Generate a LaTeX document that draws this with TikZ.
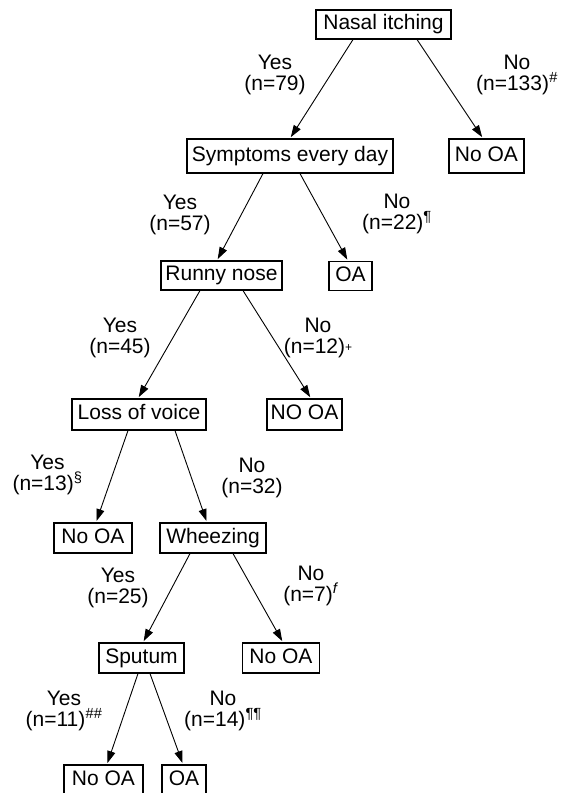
\documentclass[tikz,border=0pt]{standalone}
\usepackage{fontspec}
\setmainfont{Liberation Sans}
\usetikzlibrary{arrows.meta}
\begin{document}
\begin{tikzpicture}[x=1pt,y=-1pt,
  box/.style={draw,line width=1.1pt,inner sep=0pt,text height=15pt,text depth=4.5pt,minimum height=30pt,font=\fontsize{21}{20}\selectfont},
  lab/.style={align=center,inner sep=0pt,font=\fontsize{21}{20.5}\selectfont},
  arr/.style={line width=0.9pt,shorten >=1.5pt,-{Triangle[length=12pt,width=8pt]}}]
\useasboundingbox (0,0) rectangle (569,793);
% boxes
\node[box,minimum width=135pt,minimum height=29pt] (nasal) at (383.5,24.5) {Nasal itching};
\node[box,minimum width=206pt,minimum height=34pt] (sym) at (290,156) {Symptoms every day};
\node[box,minimum width=75pt,minimum height=34pt] (noa1) at (486.5,156) {No OA};
\node[box,minimum width=121pt,minimum height=29pt] (runny) at (221.5,275.5) {Runny nose};
\node[box,minimum width=43pt,minimum height=29pt] (oa1) at (350.5,276) {OA};
\node[box,minimum width=134pt,minimum height=31pt] (loss) at (139,414.5) {Loss of voice};
\node[box,minimum width=75pt,minimum height=31pt] (noa2) at (304.5,414.5) {NO OA};
\node[box,minimum width=78pt] (noa3) at (93,538) {No OA};
\node[box,minimum width=106pt] (wheez) at (213,538) {Wheezing};
\node[box,minimum width=85pt] (sput) at (141.5,658) {Sputum};
\node[box,minimum width=77pt] (noa4) at (281,658) {No OA};
\node[box,minimum width=79pt] (noa5) at (103.5,780) {No OA};
\node[box,minimum width=44pt] (oa2) at (184,780) {OA};
% arrows
\draw[arr] ([xshift=-30.5pt]nasal.south) -- (sym.north);
\draw[arr] ([xshift=33.5pt]nasal.south) -- ([xshift=-3.5pt]noa1.north);
\draw[arr] ([xshift=-27pt]sym.south) -- ([xshift=-4.5pt]runny.north);
\draw[arr] ([xshift=10pt]sym.south) -- ([xshift=-2.5pt]oa1.north);
\draw[arr] ([xshift=-21.5pt]runny.south) -- ([xshift=-1pt]loss.north);
\draw[arr] ([xshift=21.5pt]runny.south) -- ([xshift=6.5pt]noa2.north);
\draw[arr] ([xshift=-11pt]loss.south) -- ([xshift=3pt]noa3.north);
\draw[arr] ([xshift=36pt]loss.south) -- ([xshift=-6pt]wheez.north);
\draw[arr] ([xshift=-23pt]wheez.south) -- ([xshift=1.5pt]sput.north);
\draw[arr] ([xshift=20pt]wheez.south) -- ([xshift=2pt]noa4.north);
\draw[arr] ([xshift=-3.5pt]sput.south) -- ([xshift=3.5pt]noa5.north);
\draw[arr] ([xshift=8.5pt]sput.south) -- ([xshift=-1pt]oa2.north);
% labels
\node[lab] (l1) at (275,75) {Yes\\(n=79)};
\node[lab] (l2) at (517,75) {No\\(n=133)\textsuperscript{\textit{\#}}};
\node[lab] (l3) at (180,215) {Yes\\(n=57)};
\node[lab] (l4) at (397,214) {No\\(n=22)\textsuperscript{¶}};
\node[lab] (l5) at (120,338) {Yes\\(n=45)};
\node[lab] (l6) at (318,338) {No\\(n=12)\raisebox{2pt}{\fontsize{12}{12}\selectfont +}};
\node[lab] (l7) at (47.5,475) {Yes\\(n=13)\textsuperscript{§}};
\node[lab] (l8) at (252,478) {No\\(n=32)};
\node[lab] (l9) at (118,588) {Yes\\(n=25)};
\node[lab] (l10) at (311,586) {No\\(n=7)\textsuperscript{\textit{f}}};
\node[lab] (l11) at (64,711) {Yes\\(n=11)\textsuperscript{\textit{\#\#}}};
\node[lab] (l12) at (223,711) {No\\(n=14)\textsuperscript{¶¶}};
\end{tikzpicture}
\end{document}
